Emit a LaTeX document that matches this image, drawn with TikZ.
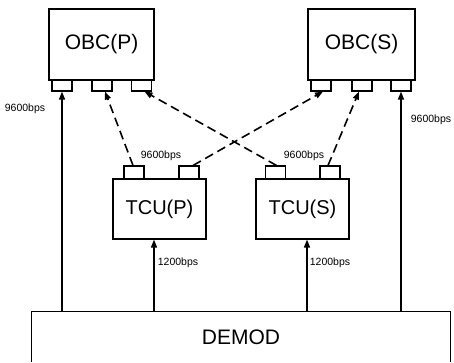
\documentclass[tikz,border=0pt]{standalone}
\usepackage{fontspec}
\setmainfont{Liberation Sans}
\usetikzlibrary{arrows.meta}
\tikzset{
  box/.style={draw, line width=1.1pt, inner sep=0pt, font=\fontsize{21}{24}\selectfont},
  port/.style={draw, line width=1.1pt, inner sep=0pt, minimum width=20pt, minimum height=11pt},
  tport/.style={draw, line width=1.1pt, inner sep=0pt, minimum width=20pt, minimum height=13pt},
  rate/.style={inner sep=0pt, font=\fontsize{10.5}{12}\selectfont},
  arr/.style={line width=1.3pt, -{Triangle[length=8pt,width=6pt]}},
  darr/.style={line width=1.6pt, dash pattern=on 9pt off 5pt, -{Triangle[length=8pt,width=6pt]}}
}
\begin{document}
\begin{tikzpicture}[x=1pt,y=-1pt]
\clip (0,0) rectangle (454,362);
% OBC boxes
\node[box, minimum width=105pt, minimum height=71pt] (obcp) at (101.5,44.5) {OBC(P)};
\node[box, minimum width=107pt, minimum height=71pt] (obcs) at (361.5,44.5) {OBC(S)};
% OBC ports
\node[port] (pp1) at (62,85.5) {};
\node[port] (pp2) at (102,85.5) {};
\node[port] (pp3) at (141.5,85.5) {};
\node[port] (sp1) at (321,85.5) {};
\node[port] (sp2) at (362,85.5) {};
\node[port] (sp3) at (401,85.5) {};
% TCU boxes
\node[box, minimum width=93pt, minimum height=60pt, font=\fontsize{20}{24}\selectfont] (tcup) at (159.5,209) {TCU(P)};
\node[box, minimum width=93pt, minimum height=60pt, font=\fontsize{20}{24}\selectfont] (tcus) at (302.5,209) {TCU(S)};
% TCU ports
\node[tport] (tp1) at (134,172.5) {};
\node[tport] (tp2) at (189,172.5) {};
\node[tport] (ts1) at (275.5,172.5) {};
\node[tport] (ts2) at (330,172.5) {};
% DEMOD
\node[inner sep=0pt, minimum width=418pt, minimum height=50pt, font=\fontsize{21}{24}\selectfont] (demod) at (241,337) {DEMOD};
\draw[line width=1.1pt] (demod.south west) -- (demod.north west) -- (demod.north east) -- (demod.south east);
% solid arrows
\draw[arr] (pp1.south |- demod.north) -- (pp1.south);
\draw[arr] (sp3.south |- demod.north) -- (sp3.south);
\draw[arr] ([xshift=-5.5pt]tcup.south |- demod.north) -- ([xshift=-5.5pt]tcup.south);
\draw[arr] ([xshift=4.5pt]tcus.south |- demod.north) -- ([xshift=4.5pt]tcus.south);
% dashed arrows
\draw[darr] ([xshift=-1pt]tp1.north) -- ([xshift=3pt]pp2.south);
\draw[darr] ([xshift=4pt]tp2.north) -- ([xshift=2pt]sp1.south);
\draw[darr] ([xshift=1pt]ts1.north) -- ([xshift=3pt]pp3.south);
\draw[darr] ([xshift=-2pt]ts2.north) -- ([xshift=-3pt]sp2.south);
% rate labels
\node[rate] (l1) at (25,109) {9600bps};
\node[rate] (l2) at (431,120) {9600bps};
\node[rate] (l3) at (161,156) {9600bps};
\node[rate] (l4) at (304,156) {9600bps};
\node[rate] (l5) at (178,263) {1200bps};
\node[rate] (l6) at (330,263) {1200bps};
\end{tikzpicture}
\end{document}
